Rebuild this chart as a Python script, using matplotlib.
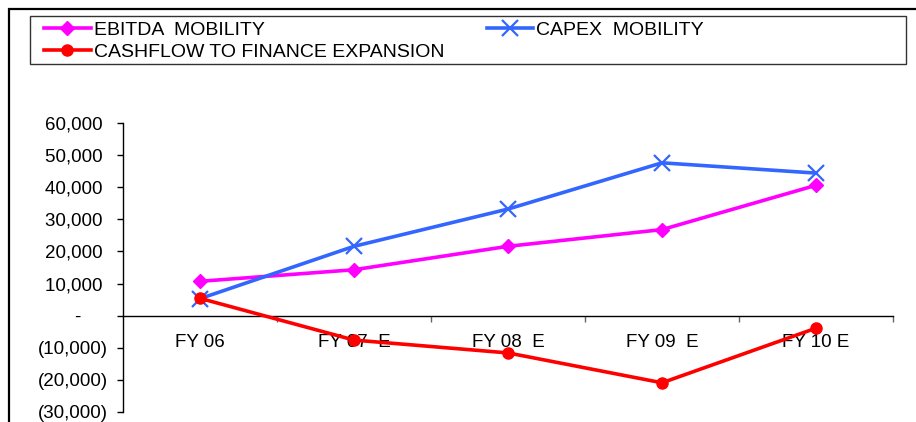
import matplotlib
matplotlib.use("Agg")
import matplotlib.pyplot as plt
from matplotlib.patches import Rectangle
from matplotlib.ticker import FuncFormatter, FixedLocator

plt.rcParams["font.family"] = ["Liberation Sans", "DejaVu Sans"]

# fiscal years and mobility figures
years = ["FY 06", "FY 07  E", "FY 08  E", "FY 09  E", "FY 10 E"]
ebitda = [10700, 14300, 21600, 26800, 40600]
capex = [5300, 21600, 33200, 47600, 44400]
cashflow = [5400, -7600, -11600, -20900, -3900]

FS = 13.5
LEG_FS = 14
W, H = 916, 422

fig = plt.figure(figsize=(W / 100, H / 100), dpi=100)
ax = fig.add_axes([123 / W, 10 / H, 770 / W, 289 / H])

x = list(range(len(years)))
l1, = ax.plot(x, ebitda, color="#FF00FF", lw=2.6, marker="D", ms=7.5,
              label="EBITDA  MOBILITY", clip_on=False, zorder=3)
l2, = ax.plot(x, capex, color="#3366FF", lw=2.6, marker="x", ms=11, mew=1.6,
              label="CAPEX  MOBILITY", clip_on=False, zorder=4)
l3, = ax.plot(x, cashflow, color="#FF0000", lw=2.6, marker="o", ms=8,
              label="CASHFLOW TO FINANCE EXPANSION", clip_on=False, zorder=5)

ax.set_xlim(-0.5, len(years) - 0.5)
ax.set_ylim(-30000, 60000)
ax.yaxis.set_major_locator(FixedLocator(range(-30000, 60001, 10000)))


def acct(v, pos):
    if v == 0:
        return "-     "
    if v < 0:
        return f"({abs(v):,.0f})"
    return f"{v:,.0f} "


ax.yaxis.set_major_formatter(FuncFormatter(acct))
ax.tick_params(axis="y", direction="out", length=4.5, width=1, color="black",
               labelsize=FS, pad=6.5)

ax.set_xticks(x)
ax.set_xticklabels(years)
ax.set_xticks([i + 0.5 for i in x], minor=True)
ax.tick_params(axis="x", which="major", length=0, labelsize=FS, pad=13.5)
ax.tick_params(axis="x", which="minor", direction="out", length=4, width=1,
               color="#666666")

for s in ("top", "right"):
    ax.spines[s].set_visible(False)
ax.spines["bottom"].set_position(("data", 0))
ax.spines["bottom"].set_linewidth(1)
ax.spines["left"].set_linewidth(1)

# chart frame and legend box
fig.patches.append(Rectangle((9 / W, -0.1), 1.2, (H - 9) / H + 0.1,
                             transform=fig.transFigure, fill=False,
                             ec="black", lw=1.6))
fig.patches.append(Rectangle((30 / W, (H - 64) / H), 876 / W, 48 / H,
                             transform=fig.transFigure, fill=False,
                             ec="#333333", lw=1))

fig.legend(handles=[l1, l3, l2], ncol=2, loc="upper left",
           bbox_to_anchor=(42 / W, (H - 19) / H), frameon=False,
           fontsize=LEG_FS, handlelength=2.4, handletextpad=0.15,
           columnspacing=2.2, labelspacing=0.25, borderpad=0.1,
           borderaxespad=0)

fig.savefig("out.png", dpi=100, facecolor="white")
